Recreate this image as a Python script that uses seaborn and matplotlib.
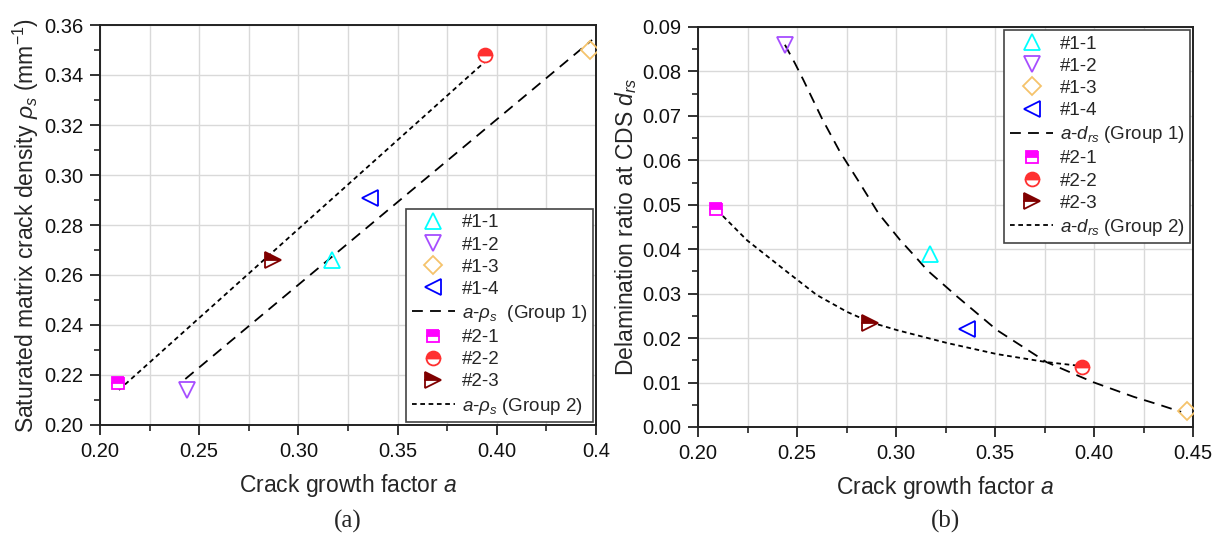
import matplotlib
matplotlib.use("Agg")
import matplotlib.pyplot as plt
import seaborn as sns
import numpy as np
import pandas as pd
from matplotlib.lines import Line2D
from matplotlib.ticker import MultipleLocator

# ---------------- data ----------------
specimens = ["#1-1", "#1-2", "#1-3", "#1-4", "#2-1", "#2-2", "#2-3"]
growth_a = [0.317, 0.244, 0.447, 0.336, 0.209, 0.394, 0.287]
rho_s = [0.266, 0.214, 0.350, 0.291, 0.217, 0.348, 0.266]
d_rs = [0.039, 0.086, 0.0035, 0.022, 0.049, 0.0135, 0.0235]

# fitted lines (a-rho_s)
fit1_rho_x = [0.243, 0.448]
fit1_rho_y = [0.2184, 0.354]
fit2_rho_x = [0.2095, 0.395]
fit2_rho_y = [0.214, 0.346]

# fitted curves (a-d_rs)
fit1_d_x = [0.2439, 0.249, 0.2532, 0.2625, 0.2717, 0.2818, 0.2911, 0.302, 0.3104, 0.3157,
            0.331, 0.351, 0.376, 0.3995, 0.420, 0.433, 0.444]
fit1_d_y = [0.086, 0.0818, 0.0781, 0.0695, 0.0619, 0.0548, 0.0481, 0.0421, 0.038, 0.0353,
            0.0293, 0.0218, 0.0146, 0.0101, 0.0068, 0.0050, 0.0034]
fit2_d_x = [0.2096, 0.2248, 0.245, 0.260, 0.2753, 0.2869, 0.3005, 0.3258, 0.351, 0.376, 0.394]
fit2_d_y = [0.0488, 0.042, 0.0349, 0.0297, 0.0259, 0.0236, 0.0218, 0.0189, 0.0164, 0.0146, 0.0137]

x_ticklabels_a = ["0.20", "0.25", "0.30", "0.35", "0.40", "0.4"]
x_ticklabels_b = ["0.20", "0.25", "0.30", "0.35", "0.40", "0.45"]

# ---------------- style ----------------
colors = ["#00FFFF", "#A64DFF", "#F5C36B", "#0000FF", "#FF00FF", "#FF3030", "#800000"]
markers = ["^", "v", "D", "<", "s", "o", ">"]
msizes = [11, 11, 9, 11, 9, 10, 11]

sns.set_theme(style="ticks")
plt.rcParams["font.family"] = ["Liberation Sans", "DejaVu Sans"]
plt.rcParams["mathtext.fontset"] = "custom"
plt.rcParams["mathtext.rm"] = "Liberation Sans"
plt.rcParams["mathtext.it"] = "Liberation Sans:italic"
plt.rcParams["mathtext.bf"] = "Liberation Sans:bold"

df = pd.DataFrame({"spec": specimens, "a": growth_a, "rho": rho_s, "d": d_rs})

fig = plt.figure(figsize=(12.21, 5.42), dpi=100)
axA = fig.add_axes([100 / 1221, 1 - 425 / 542, 496 / 1221, 400 / 542])
axB = fig.add_axes([698 / 1221, 1 - 427 / 542, 495 / 1221, 400 / 542])

DASH1 = (6, 4)
DASH2 = (2.6, 2)


def draw(ax, ycol, f1x, f1y, f2x, f2y, lab1, lab2):
    sns.lineplot(x=f1x, y=f1y, ax=ax, color="black", lw=1.3, dashes=False,
                 linestyle=(0, DASH1), sort=False, zorder=3)
    sns.lineplot(x=f2x, y=f2y, ax=ax, color="black", lw=1.3, dashes=False,
                 linestyle=(0, DASH2), sort=False, zorder=3)
    handles = []
    for i, row in df.iterrows():
        if i < 4:
            ax.plot(row["a"], row[ycol], linestyle="", marker=markers[i], ms=msizes[i],
                    mfc="none", mec=colors[i], mew=1.3, zorder=4)
            h = Line2D([], [], linestyle="", marker=markers[i], ms=msizes[i],
                       mfc="none", mec=colors[i], mew=1.3)
        else:
            ax.plot(row["a"], row[ycol], linestyle="", marker=markers[i], ms=msizes[i],
                    mfc=colors[i], mfcalt="white", mec=colors[i], mew=1.3,
                    fillstyle="top", zorder=4)
            h = Line2D([], [], linestyle="", marker=markers[i], ms=msizes[i],
                       mfc=colors[i], mfcalt="white", mec=colors[i], mew=1.3,
                       fillstyle="top")
        handles.append((h, row["spec"]))
        if i == 3:
            handles.append((Line2D([], [], color="black", lw=1.3, linestyle=(0, DASH1)), lab1))
    handles.append((Line2D([], [], color="black", lw=1.3, linestyle=(0, DASH2)), lab2))
    return handles


def style_axes(ax, ymin, ymax, ymaj, ymin_loc):
    ax.set_xlim(0.20, 0.45)
    ax.set_ylim(ymin, ymax)
    ax.xaxis.set_major_locator(MultipleLocator(0.05))
    ax.xaxis.set_minor_locator(MultipleLocator(0.025))
    ax.yaxis.set_major_locator(MultipleLocator(ymaj))
    ax.yaxis.set_minor_locator(MultipleLocator(ymin_loc))
    ax.grid(True, which="major", axis="y", color="#d9d9d9", lw=1.0)
    ax.grid(True, which="both", axis="x", color="#d9d9d9", lw=1.0)
    ax.set_axisbelow(True)
    for s in ax.spines.values():
        s.set_visible(True)
        s.set_color("#222222")
        s.set_linewidth(1.4)
    ax.tick_params(which="major", direction="out", length=7, width=1.3, color="#222222",
                   labelsize=14.5, labelcolor="#111111", pad=5)
    ax.tick_params(which="minor", direction="out", length=4, width=1.2, color="#222222")
    ax.tick_params(top=False, right=False, which="both")


hA = draw(axA, "rho", fit1_rho_x, fit1_rho_y, fit2_rho_x, fit2_rho_y,
          r"$a$-$\rho_s$  (Group 1)", r"$a$-$\rho_s$ (Group 2)")
hB = draw(axB, "d", fit1_d_x, fit1_d_y, fit2_d_x, fit2_d_y,
          r"$a$-$d_{rs}$ (Group 1)", r"$a$-$d_{rs}$ (Group 2)")

style_axes(axA, 0.20, 0.36, 0.02, 0.01)
style_axes(axB, 0.0, 0.09, 0.01, 0.005)

axA.set_xticks([0.20, 0.25, 0.30, 0.35, 0.40, 0.45])
axA.set_xticklabels(x_ticklabels_a)
axA.set_yticks(np.arange(0.20, 0.3601, 0.02))
axA.set_yticklabels([f"{v:.2f}" for v in np.arange(0.20, 0.3601, 0.02)])
axB.set_xticks([0.20, 0.25, 0.30, 0.35, 0.40, 0.45])
axB.set_xticklabels(x_ticklabels_b)
axB.set_yticks(np.arange(0.0, 0.0901, 0.01))
axB.set_yticklabels([f"{v:.2f}" for v in np.arange(0.0, 0.0901, 0.01)])

axA.set_xlabel(r"Crack growth factor $a$", fontsize=16.5, labelpad=8)
axB.set_xlabel(r"Crack growth factor $a$", fontsize=16.5, labelpad=8)
axA.set_ylabel(r"Saturated matrix crack density $\rho_s$ (mm$^{-1}$)", fontsize=16.5, labelpad=2)
axB.set_ylabel(r"Delamination ratio at CDS $d_{rs}$", fontsize=16.5, labelpad=2)

legkw = dict(fontsize=13.5, frameon=True, fancybox=False, edgecolor="#444444",
             framealpha=1, handlelength=2.3, handletextpad=0.35, labelspacing=0.27,
             borderpad=0.3, borderaxespad=0.15)
legA = axA.legend([h for h, _ in hA], [l for _, l in hA], loc="lower right", **legkw)
legB = axB.legend([h for h, _ in hB], [l for _, l in hB], loc="upper right", **legkw)
for leg in (legA, legB):
    leg.get_frame().set_linewidth(1.2)

fig.text((100 + 596) / 2 / 1221, 1 - 521 / 542, "(a)", ha="center", va="center",
         fontsize=18, family=["Liberation Serif", "DejaVu Serif"])
fig.text((698 + 1193) / 2 / 1221, 1 - 521 / 542, "(b)", ha="center", va="center",
         fontsize=18, family=["Liberation Serif", "DejaVu Serif"])

fig.savefig("out.png", dpi=100)
